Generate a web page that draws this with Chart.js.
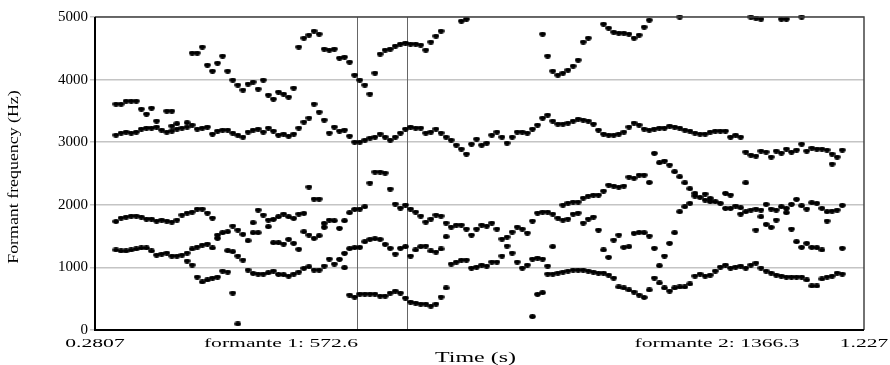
<!DOCTYPE html>
<html>
<head>
<meta charset="utf-8">
<script src="https://cdn.jsdelivr.net/npm/chart.js@4.4.1/dist/chart.umd.min.js"></script>
<style>
  html, body { margin: 0; padding: 0; background: #fff; }
  #wrap { width: 890px; height: 365px; }
</style>
</head>
<body>
<div id="wrap"><canvas id="formants"></canvas></div>
<script>
// time axis (s) and analysis frames
const timeMin = 0.2807;
const timeMax = 1.227;
const frameStart = 0.3065;   // first analysis frame
const frameStep = 0.00625;   // praat time step

// formant values per frame (Hz), null = no value
const f1 = [1278,1262,1262,1278,1294,1310,1310,1262,1198,1214,
  1230,1182,1182,1198,1102,1038,846,767,799,830,
  846,942,926,591,96,1118,958,905,894,894,
  915,942,889,883,862,894,926,985,1011,958,
  958,1022,1134,1054,1129,995,559,527,575,575,
  575,575,543,543,591,623,591,511,447,431,
  415,415,383,415,527,671,1054,1086,1118,1118,
  990,1006,1038,1022,1086,1086,1182,1341,1230,1086,
  990,1038,213,570,596,894,894,910,926,942,
  958,958,958,942,926,910,910,878,830,687,
  671,639,607,559,520,639,830,751,671,623,
  671,687,687,735,862,894,862,878,942,1006,
  1038,990,1006,1022,990,1038,1070,990,942,910,
  878,862,846,846,846,846,799,703,703,815,
  846,862,910,894];
const f2 = [1733,1789,1805,1821,1821,1805,1773,1773,1741,1757,
  1741,1725,1757,1837,1230,1294,1325,1357,1373,1310,
  1464,1554,1267,1251,1182,1528,1426,1554,1554,1837,
  1650,1394,1394,1373,1448,1384,1289,1570,1517,1464,
  1506,1640,1757,1746,1624,1225,1299,1315,1320,1410,
  1448,1458,1448,1368,1305,1214,1305,1331,1182,1278,
  1331,1341,1262,1246,1294,1490,1645,1677,1677,1613,
  1517,1613,1677,1661,1709,1613,1453,1485,1565,1645,
  1613,1549,1134,1150,1134,1022,1331,1789,1757,1773,
  1853,1869,1709,1773,1805,1597,1278,1161,1437,1517,
  1320,1331,1544,1560,1554,1501,1305,1027,1182,1384,
  1554,1889,1969,2023,2140,2119,2076,2050,2050,2023,
  1943,1943,1980,1853,1889,1916,1597,1810,1687,1640,
  1757,1969,1874,1613,1410,1320,1384,1320,1315,1278,
  1741,1900,1916,1305];
const f3 = [3114,3146,3162,3146,3162,3210,3226,3226,3242,3194,
  3162,3178,3210,3226,1869,1884,1932,1932,1869,1789,
  1517,3194,1570,1661,1597,3082,3162,1714,1916,3162,
  1757,1768,1810,1853,1810,1784,1853,1864,2284,2092,
  2092,1704,3146,3242,3178,1746,1874,1927,1932,1969,
  2348,2523,2523,2507,2252,2012,1948,1996,1932,1884,
  1821,1725,1773,1837,1821,1709,3034,2954,2891,2811,
  2970,3050,2954,2986,3114,3162,3082,2986,3082,3162,
  3162,3146,1741,1869,1884,1884,1853,3290,1996,2028,
  2044,2044,2108,2140,2156,2156,2220,2316,2300,2284,
  2300,2443,2427,2475,2475,2356,2822,2672,2699,2635,
  2528,2448,2352,2257,2183,3130,2172,2103,3178,3178,
  2183,2156,3114,1953,2352,2795,1932,1916,2007,1932,
  1916,2827,1943,2007,2087,1985,1932,2033,2023,1943,
  1889,2651,2763,1991];
const f4 = [3609,3609,3657,3657,3657,3529,3449,3545,3338,null,
  3497,3258,3295,null,3242,3274,3210,3226,3242,3130,
  3178,4376,3194,3146,3114,3833,3929,3194,3210,3993,
  3226,3178,3114,3130,3098,3130,3226,3322,3386,3609,
  3481,3354,4472,4488,4344,3194,3098,3002,3002,3034,
  3066,3082,3130,3082,3034,3082,3146,3210,3242,3226,
  3226,3146,3162,3210,3146,3082,null,null,4935,4967,
  null,null,null,null,null,null,null,null,null,null,
  null,null,3210,3274,3386,3434,3338,4072,3290,3306,
  3338,3370,3354,3338,3290,3194,3130,3114,3114,3130,
  3162,3242,3306,3274,3210,3194,3210,3226,3226,3258,
  3242,3226,3194,3178,3146,null,3130,3162,null,null,
  3178,3082,null,3082,2843,5000,2779,2859,2843,2763,
  2859,4967,2891,2843,2875,2970,2859,2907,2891,2891,
  2875,2811,null,2875];
const f5 = [null,null,null,null,null,null,null,null,null,null,
  null,3497,null,null,3311,4424,4424,4520,4232,4136,
  4264,null,4136,3993,3913,null,null,3961,3849,null,
  3753,3689,3801,3769,3721,3865,4520,4663,4711,4775,
  4727,4488,null,null,null,4360,4280,4072,3993,3913,
  3769,4104,4408,4472,4488,4536,4568,4584,4568,4568,
  4552,4472,4600,4695,4775,null,null,null,null,null,
  null,null,null,null,null,null,null,null,null,null,
  null,null,null,null,4727,4376,4136,null,4104,4152,
  4216,4312,4600,4663,null,null,4887,4823,4759,4743,
  4743,4727,4663,4711,4839,4951,null,null,null,null,
  null,5000,null,null,null,null,null,null,null,null,
  null,null,null,null,null,null,4983,4967,null,null,
  null,null,4967,null,null,5000,null,null,null,null,
  null,null,null,null];

const yTicks = [0, 1000, 2000, 3000, 4000, 5000];
const cursorTimes = [0.6031, 0.6647];
const bottomTexts = ['0.2807', 'formante 1: 572.6', 'formante 2: 1366.3', '1.227'];
const bottomTextTimes = [0.2807, 0.5096, 1.0462, 1.227];
const xTitle = 'Time (s)';
const yTitle = 'Formant frequency (Hz)';

function toPoints(values) {
  const pts = [];
  values.forEach((v, i) => {
    if (v !== null) pts.push({ x: frameStart + i * frameStep, y: v });
  });
  return pts;
}

// slightly wide dot, like the stretched praat picture
const dot = document.createElement('canvas');
dot.width = 7; dot.height = 5;
const dctx = dot.getContext('2d');
dctx.fillStyle = '#000';
dctx.beginPath();
dctx.ellipse(3.5, 2.5, 3.3, 2.4, 0, 0, Math.PI * 2);
dctx.fill();

const serif = '"Liberation Serif", "Times New Roman", serif';

const praatFrame = {
  id: 'praatFrame',
  beforeDatasetsDraw(chart) {
    const { ctx, chartArea: a, scales: { x } } = chart;
    ctx.save();
    ctx.strokeStyle = '#666';
    ctx.lineWidth = 1;
    cursorTimes.forEach(t => {
      const px = Math.round(x.getPixelForValue(t)) + 0.5;
      ctx.beginPath();
      ctx.moveTo(px, a.top);
      ctx.lineTo(px, a.bottom);
      ctx.stroke();
    });
    ctx.restore();
  },
  afterDraw(chart) {
    const { ctx, chartArea: a, scales: { x } } = chart;
    ctx.save();
    // box
    ctx.strokeStyle = '#444';
    ctx.lineWidth = 1.5;
    ctx.beginPath();
    ctx.moveTo(a.left, a.top); ctx.lineTo(a.right, a.top); ctx.lineTo(a.right, a.bottom);
    ctx.stroke();
    ctx.strokeStyle = '#000';
    ctx.lineWidth = 2;
    ctx.beginPath();
    ctx.moveTo(a.left, a.top); ctx.lineTo(a.left, a.bottom); ctx.lineTo(a.right, a.bottom);
    ctx.stroke();

    // texts, drawn stretched like the original picture
    ctx.fillStyle = '#000';
    ctx.textAlign = 'center';
    ctx.textBaseline = 'alphabetic';
    ctx.font = '13.5px ' + serif;
    bottomTexts.forEach((txt, i) => {
      ctx.save();
      ctx.translate(x.getPixelForValue(bottomTextTimes[i]), 347);
      ctx.scale(1.6, 1);
      ctx.fillText(txt, 0, 0);
      ctx.restore();
    });
    ctx.save();
    ctx.font = '15px ' + serif;
    ctx.translate((a.left + a.right) / 2 - 4, 362);
    ctx.scale(1.6, 1);
    ctx.fillText(xTitle, 0, 0);
    ctx.restore();

    ctx.save();
    ctx.font = '15px ' + serif;
    ctx.textBaseline = 'middle';
    ctx.translate(14, 177);
    ctx.rotate(-Math.PI / 2);
    ctx.scale(1.19, 1);
    ctx.fillText(yTitle, 0, 0);
    ctx.restore();
    ctx.restore();
  }
};

const sets = [f1, f2, f3, f4, f5].map((vals, i) => ({
  label: 'F' + (i + 1),
  data: toPoints(vals),
  pointStyle: dot,
  pointRadius: 3,
  pointHoverRadius: 3,
  showLine: false,
  clip: false
}));

new Chart(document.getElementById('formants'), {
  type: 'scatter',
  data: { datasets: sets },
  options: {
    responsive: true,
    maintainAspectRatio: false,
    animation: false,
    events: [],
    layout: { padding: { top: 17, right: 26, bottom: 35, left: 0 } },
    plugins: { legend: { display: false }, tooltip: { enabled: false } },
    scales: {
      x: {
        type: 'linear',
        min: timeMin,
        max: timeMax,
        display: false
      },
      y: {
        min: 0,
        max: 5000,
        afterFit: scale => { scale.width = 95; },
        afterBuildTicks: scale => { scale.ticks = yTicks.map(v => ({ value: v })); },
        border: { display: false },
        grid: { color: '#c4c4c4', lineWidth: 1.5, drawTicks: true, tickLength: 5 },
        ticks: {
          color: '#000',
          padding: 2,
          font: { family: serif, size: 15 },
          callback: v => String(v)
        }
      }
    }
  },
  plugins: [praatFrame]
});
</script>
</body>
</html>
